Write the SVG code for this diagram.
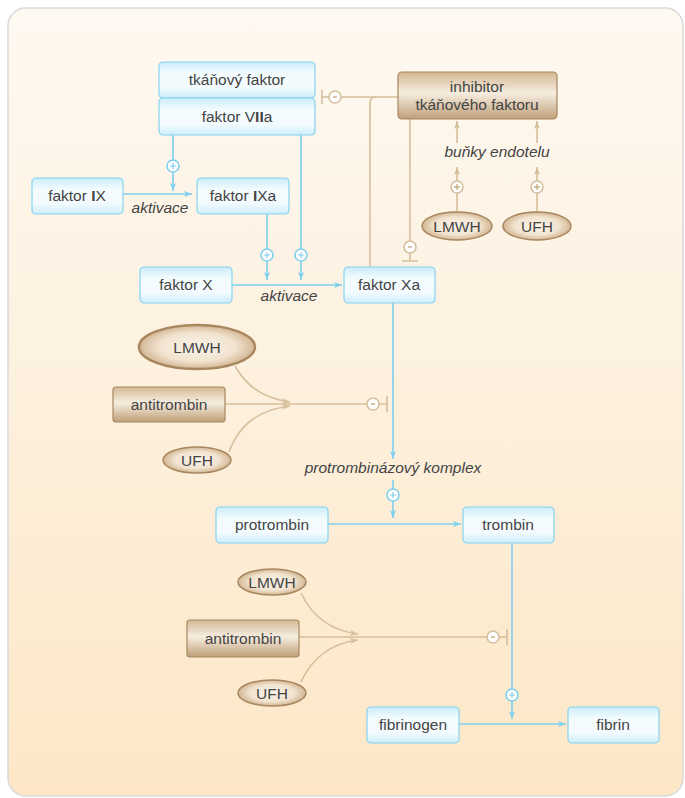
<svg xmlns="http://www.w3.org/2000/svg" width="685" height="798" viewBox="0 0 685 798">
<style>
.bb{fill:url(#gb);stroke:#86d2ef;stroke-width:1.2}
.br{fill:url(#gr);stroke:#a8875f;stroke-width:1.2}
.el{fill:url(#ge);stroke:#a8875f;stroke-width:1.5}
.t{font-family:"Liberation Sans",Arial,sans-serif;font-size:15.5px;fill:#444;text-anchor:middle}
.it{font-style:italic}
.lb{fill:none;stroke:#7fcfee;stroke-width:1.6}
.lt{fill:none;stroke:#d6bf9c;stroke-width:1.6}
.cb{fill:#fff;stroke:#7fcfee;stroke-width:1.6}
.ct{fill:#fff;stroke:#d6bf9c;stroke-width:1.6}
.sb{stroke:#7fcfee;stroke-width:1.2;fill:none}
.st{stroke:#c9ad85;stroke-width:1.4;fill:none}
</style>
<defs>
<linearGradient id="bg" x1="0" y1="0" x2="0" y2="1">
<stop offset="0" stop-color="#fef9f1"/><stop offset="0.5" stop-color="#fdf0dd"/><stop offset="1" stop-color="#fde7c6"/>
</linearGradient>
<linearGradient id="gb" x1="0" y1="0" x2="0" y2="1">
<stop offset="0" stop-color="#c9ecfa"/><stop offset="0.3" stop-color="#f2fbfe"/><stop offset="0.7" stop-color="#f4fbfe"/><stop offset="1" stop-color="#cdeefa"/>
</linearGradient>
<linearGradient id="gr" x1="0" y1="0" x2="0" y2="1">
<stop offset="0" stop-color="#d3b994"/><stop offset="0.45" stop-color="#f6ede0"/><stop offset="1" stop-color="#bf9f78"/>
</linearGradient>
<radialGradient id="ge" cx="0.5" cy="0.5" r="0.55">
<stop offset="0" stop-color="#fbf4ea"/><stop offset="0.6" stop-color="#f1e3cf"/><stop offset="1" stop-color="#caa982"/>
</radialGradient>
<marker id="ab" markerWidth="9" markerHeight="8" refX="8" refY="4" orient="auto" markerUnits="userSpaceOnUse">
<path d="M0,1 L8,4 L0,7 L2,4 z" fill="#7fcfee"/>
</marker>
<marker id="at" markerWidth="9" markerHeight="8" refX="8" refY="4" orient="auto" markerUnits="userSpaceOnUse">
<path d="M0,1 L8,4 L0,7 L2,4 z" fill="#d6bf9c"/>
</marker>
</defs>
<rect x="0" y="0" width="685" height="798" fill="#fff"/>
<rect x="8" y="8" width="675" height="788" rx="18" fill="url(#bg)" stroke="#d9d9d9" stroke-width="1.5"/>

<g id="connectors">
<!-- blue -->
<path class="lb" d="M123,194 H192" marker-end="url(#ab)"/>
<path class="lb" d="M173,135 V160"/>
<path class="lb" d="M173,172 V191" marker-end="url(#ab)"/>
<path class="lb" d="M267,214 V249"/>
<path class="lb" d="M267,261 V280" marker-end="url(#ab)"/>
<path class="lb" d="M301,135 V249"/>
<path class="lb" d="M301,261 V280" marker-end="url(#ab)"/>
<path class="lb" d="M232,285 H342" marker-end="url(#ab)"/>
<path class="lb" d="M393,303 V459" marker-end="url(#ab)"/>
<path class="lb" d="M393,480 V489"/>
<path class="lb" d="M393,501 V518" marker-end="url(#ab)"/>
<path class="lb" d="M328,524 H461" marker-end="url(#ab)"/>
<path class="lb" d="M512,543 V689"/>
<path class="lb" d="M512,701 V719" marker-end="url(#ab)"/>
<path class="lb" d="M459,724 H566" marker-end="url(#ab)"/>
<!-- tan -->
<path class="lt" d="M398,97 H341"/>
<path class="lt" d="M329,97 H322 M322,90 V104"/>
<path class="lt" d="M370,267 V103 Q370,97 376,97"/>
<path class="lt" d="M410,119 V241"/>
<path class="lt" d="M410,253 V261 M402,261 H418"/>
<path class="lt" d="M457,212 V193"/>
<path class="lt" d="M457,181 V167" marker-end="url(#at)"/>
<path class="lt" d="M537,212 V193"/>
<path class="lt" d="M537,181 V167" marker-end="url(#at)"/>
<path class="lt" d="M457,143 V121" marker-end="url(#at)"/>
<path class="lt" d="M537,143 V121" marker-end="url(#at)"/>
<path class="lt" d="M225,404 H367"/>
<path class="lt" d="M379,404 H387 M387,396 V412"/>
<path class="lt" d="M235,366 Q252,397 290,402" marker-end="url(#at)"/>
<path class="lt" d="M229,452 Q244,411 290,406" marker-end="url(#at)"/>
<path class="lt" d="M299,637 H487"/>
<path class="lt" d="M499,637 H507 M507,629 V645"/>
<path class="lt" d="M301,593 Q318,629 358,634" marker-end="url(#at)"/>
<path class="lt" d="M301,682 Q318,645 358,640" marker-end="url(#at)"/>
<!-- plus circles -->
<circle class="cb" cx="173" cy="166" r="6"/><path class="sb" d="M170,166 H176 M173,163 V169"/>
<circle class="cb" cx="267" cy="255" r="6"/><path class="sb" d="M264,255 H270 M267,252 V258"/>
<circle class="cb" cx="301" cy="255" r="6"/><path class="sb" d="M298,255 H304 M301,252 V258"/>
<circle class="cb" cx="393" cy="495" r="6"/><path class="sb" d="M390,495 H396 M393,492 V498"/>
<circle class="cb" cx="512" cy="695" r="6"/><path class="sb" d="M509,695 H515 M512,692 V698"/>
<circle class="ct" cx="457" cy="187" r="6"/><path class="st" d="M454,187 H460 M457,184 V190"/>
<circle class="ct" cx="537" cy="187" r="6"/><path class="st" d="M534,187 H540 M537,184 V190"/>
<!-- minus circles -->
<circle class="ct" cx="335" cy="97" r="6"/><path class="st" d="M333,97 H337"/>
<circle class="ct" cx="410" cy="247" r="6"/><path class="st" d="M408,247 H412"/>
<circle class="ct" cx="373" cy="404" r="6"/><path class="st" d="M371,404 H375"/>
<circle class="ct" cx="493" cy="637" r="6"/><path class="st" d="M491,637 H495"/>
<!-- labels -->
<text class="t it" x="160" y="213">aktivace</text>
<text class="t it" x="289" y="301">aktivace</text>
<text class="t it" x="497" y="157">buňky endotelu</text>
<text class="t it" x="393" y="473">protrombinázový komplex</text>
</g>

<g id="tkanovy-faktor"><rect class="bb" x="159" y="62" width="156" height="36" rx="4"/><text class="t" x="237" y="85">tkáňový faktor</text></g>
<g id="faktor-VIIa"><rect class="bb" x="159" y="98" width="156" height="37" rx="4"/><text class="t" x="237" y="122">faktor V<tspan font-weight="bold">II</tspan>a</text></g>
<g id="inhibitor"><rect class="br" x="398" y="72" width="159" height="47" rx="4"/><text class="t" x="477" y="92">inhibitor</text><text class="t" x="477" y="110">tkáňového faktoru</text></g>
<g id="faktor-IX"><rect class="bb" x="32" y="178" width="91" height="36" rx="4"/><text class="t" x="77" y="201">faktor <tspan font-weight="bold">I</tspan>X</text></g>
<g id="faktor-IXa"><rect class="bb" x="197" y="178" width="92" height="36" rx="4"/><text class="t" x="243" y="201">faktor <tspan font-weight="bold">I</tspan>Xa</text></g>
<g id="faktor-X"><rect class="bb" x="140" y="267" width="92" height="36" rx="4"/><text class="t" x="186" y="290">faktor X</text></g>
<g id="faktor-Xa"><rect class="bb" x="344" y="267" width="91" height="36" rx="4"/><text class="t" x="389" y="290">faktor Xa</text></g>
<g id="lmwh-1"><ellipse class="el" cx="457" cy="226" rx="35" ry="14"/><text class="t" x="457" y="232">LMWH</text></g>
<g id="ufh-1"><ellipse class="el" cx="537" cy="226" rx="34" ry="14"/><text class="t" x="537" y="232">UFH</text></g>
<g id="lmwh-2"><ellipse cx="197" cy="347" rx="58" ry="22" fill="url(#ge)" stroke="#a8875f" stroke-width="2.5"/><text class="t" x="197" y="353">LMWH</text></g>
<g id="antitrombin-1"><rect class="br" x="113" y="387" width="112" height="35" rx="3"/><text class="t" x="169" y="410">antitrombin</text></g>
<g id="ufh-2"><ellipse class="el" cx="197" cy="460" rx="34" ry="13"/><text class="t" x="197" y="466">UFH</text></g>
<g id="protrombin"><rect class="bb" x="216" y="507" width="112" height="36" rx="4"/><text class="t" x="272" y="530">protrombin</text></g>
<g id="trombin"><rect class="bb" x="463" y="507" width="91" height="36" rx="4"/><text class="t" x="508" y="530">trombin</text></g>
<g id="lmwh-3"><ellipse class="el" cx="272" cy="582" rx="34" ry="13"/><text class="t" x="272" y="588">LMWH</text></g>
<g id="antitrombin-2"><rect class="br" x="187" y="620" width="112" height="37" rx="3"/><text class="t" x="243" y="644">antitrombin</text></g>
<g id="ufh-3"><ellipse class="el" cx="272" cy="693" rx="34" ry="13"/><text class="t" x="272" y="699">UFH</text></g>
<g id="fibrinogen"><rect class="bb" x="367" y="707" width="92" height="36" rx="4"/><text class="t" x="413" y="730">fibrinogen</text></g>
<g id="fibrin"><rect class="bb" x="568" y="707" width="91" height="36" rx="4"/><text class="t" x="613" y="730">fibrin</text></g>
</svg>
